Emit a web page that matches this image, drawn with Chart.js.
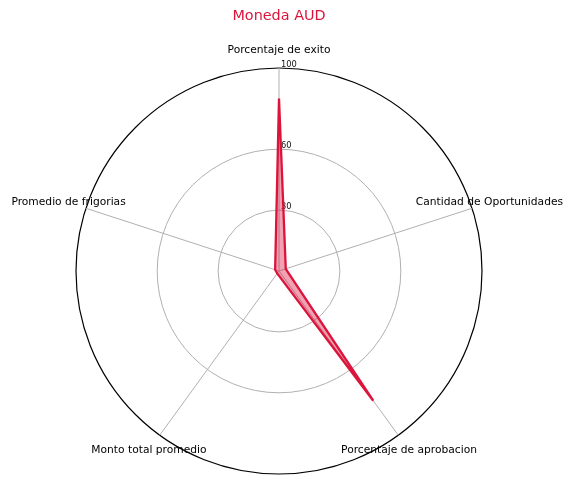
<!DOCTYPE html>
<html>
<head>
<meta charset="utf-8">
<script src="https://cdn.jsdelivr.net/npm/chart.js@4"></script>
<style>
  html, body { margin: 0; padding: 0; background: #fff; }
  #wrap { width: 574px; height: 486px; }
</style>
</head>
<body>
<div id="wrap"><canvas id="radar" width="574" height="486"></canvas></div>
<script>
const labels = ['Porcentaje de exito', 'Cantidad de Oportunidades', 'Porcentaje de aprobacion', 'Monto total promedio', 'Promedio de frigorias'];
const values = [85, 3.5, 79, 1.5, 2];
const tickValues = [30, 60, 100];
const titleText = 'Moneda AUD';

const FONT = "'DejaVu Sans', sans-serif";

// matplotlib-like labels: point labels centred outside the circle, small tick numbers right of the top axis
const labelPlugin = {
  id: 'mplLabels',
  beforeDatasetsDraw(chart) {
    const r = chart.scales.r, ctx = chart.ctx;
    ctx.save();
    ctx.font = `8.3px ${FONT}`;
    ctx.fillStyle = '#111';
    ctx.textAlign = 'left';
    ctx.textBaseline = 'alphabetic';
    tickValues.forEach(v => {
      const d = r.getDistanceFromCenterForValue(v);
      ctx.fillText(String(v), r.xCenter + 2, r.yCenter - d - 1.5);
    });
    ctx.restore();
  },
  afterDraw(chart) {
    const r = chart.scales.r, ctx = chart.ctx;
    ctx.save();
    ctx.font = `10.7px ${FONT}`;
    ctx.fillStyle = '#000';
    ctx.textAlign = 'center';
    ctx.textBaseline = 'middle';
    labels.forEach((lab, i) => {
      const p = r.getPointPosition(i, r.drawingArea * 1.09);
      ctx.fillText(lab, p.x, p.y);
    });
    ctx.restore();
  }
};

new Chart(document.getElementById('radar').getContext('2d'), {
  type: 'radar',
  data: {
    labels,
    datasets: [{
      data: values,
      borderColor: '#DC143C',
      backgroundColor: 'rgba(220,20,60,0.4)',
      borderWidth: 2.3,
      pointRadius: 0,
      fill: true,
      tension: 0
    }]
  },
  options: {
    responsive: false,
    animation: false,
    devicePixelRatio: 1,
    layout: { padding: { left: 0, right: 16, top: 0, bottom: 11.5 } },
    plugins: {
      legend: { display: false },
      tooltip: { enabled: false },
      title: {
        display: true,
        text: titleText,
        color: '#DC143C',
        font: { family: FONT, size: 14.4, weight: 'normal' },
        padding: { top: 8, bottom: 43.2 }
      }
    },
    scales: {
      r: {
        min: 0,
        max: 100,
        afterBuildTicks: s => { s.ticks = [0, ...tickValues].map(v => ({ value: v })); },
        ticks: { display: false },
        pointLabels: { display: false },
        grid: {
          circular: true,
          color: c => (c.tick && c.tick.value === 100 ? '#000' : '#b0b0b0'),
          lineWidth: c => (c.tick && c.tick.value === 100 ? 1.2 : 1)
        },
        angleLines: { color: '#b0b0b0', lineWidth: 1 }
      }
    }
  },
  plugins: [labelPlugin]
});
</script>
</body>
</html>
